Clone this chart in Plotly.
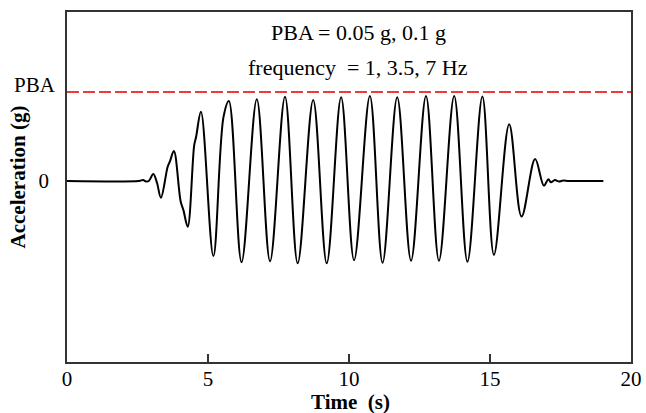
import plotly.graph_objects as go

# Data (acceleration normalised by PBA)
PBA = 1.0
time_s = [0.0, 2.55, 2.70, 2.80, 2.90, 3.06, 3.19, 3.33, 3.57, 3.65, 3.79,
          4.03, 4.13, 4.28, 4.51, 4.58, 4.75, 5.19, 5.55, 5.74, 6.19, 6.73,
          7.20, 7.73, 8.18, 8.73, 9.21, 9.72, 10.18, 10.74, 11.19, 11.71,
          12.20, 12.73, 13.19, 13.73, 14.20, 14.73, 15.14, 15.68, 16.12,
          16.60, 16.91, 17.07, 17.16, 17.30, 17.45, 17.60, 17.80, 19.02]
accel = [0.0, 0.0, 0.01, -0.005, 0.0, 0.079, -0.02, -0.188, 0.16, 0.22, 0.337,
         -0.23, -0.33, -0.514, 0.40, 0.50, 0.778, -0.844, 0.72, 0.899, -0.913, 0.918,
         -0.902, 0.947, -0.925, 0.910, -0.925, 0.940, -0.890, 0.955, -0.920, 0.940,
         -0.895, 0.955, -0.895, 0.955, -0.907, 0.950, -0.830, 0.637, -0.400,
         0.247, -0.052, 0.019, -0.015, 0.010, -0.006, 0.005, 0.0, 0.0]

x_ticks = [0, 5, 10, 15, 20]
title_lines = ["PBA = 0.05 g, 0.1 g", "frequency\u00a0 = 1, 3.5, 7 Hz"]

FONT = "Liberation Serif, Times New Roman, serif"
AX = "#333333"
TICK_SIZE = 21
TEXT_SIZE = 22
TITLE_SIZE = 21

fig = go.Figure()
fig.add_trace(go.Scatter(
    x=time_s, y=accel, mode="lines",
    line=dict(color="black", width=2, shape="spline", smoothing=1.0),
    showlegend=False, hoverinfo="skip"))
fig.add_trace(go.Scatter(
    x=[0, 20], y=[PBA, PBA], mode="lines",
    line=dict(color="#ee3b3b", width=2, dash="12px,4px"),
    showlegend=False, hoverinfo="skip"))

fig.update_layout(
    width=646, height=413,
    margin=dict(l=67, r=15, t=12, b=51),
    paper_bgcolor="white", plot_bgcolor="white",
    font=dict(family=FONT, size=TICK_SIZE, color="black"),
    xaxis=dict(range=[0, 20], tickvals=x_ticks, ticks="inside", ticklen=8,
               tickwidth=1.5, tickcolor=AX, showline=True, linecolor=AX,
               linewidth=1.5, mirror=True, showgrid=False, zeroline=False,
               automargin=False, ticklabelstandoff=-3,
               tickfont=dict(family=FONT, size=TICK_SIZE, color="black")),
    yaxis=dict(range=[-2.034, 1.899], tickvals=[0], ticktext=["0"], ticks="",
               showline=True, linecolor=AX, linewidth=1.5, mirror=True,
               showgrid=False, zeroline=False, ticklabelstandoff=12,
               automargin=False,
               tickfont=dict(family=FONT, size=TICK_SIZE, color="black")),
)

fig.add_annotation(x=0.502, xref="paper", y=-0.114, yref="paper",
                   text="<b>Time\u00a0 (s)</b>", showarrow=False,
                   xanchor="center", yanchor="middle",
                   font=dict(family=FONT, size=TITLE_SIZE, color="black"))
fig.add_annotation(x=-0.016, xref="paper", y=PBA, yref="y", text="PBA",
                   showarrow=False, xanchor="right", yanchor="middle", yshift=7,
                   font=dict(family=FONT, size=TICK_SIZE, color="black"))
fig.add_annotation(x=-0.087, xref="paper", y=0.05, yref="y",
                   text="<b>Acceleration (g)</b>", textangle=-90,
                   showarrow=False, xanchor="center", yanchor="middle",
                   font=dict(family=FONT, size=TITLE_SIZE, color="black"))
fig.add_annotation(x=10.32, xref="x", y=1.674, yref="y", text=title_lines[0],
                   showarrow=False, xanchor="center", yanchor="middle",
                   font=dict(family=FONT, size=TEXT_SIZE, color="black"))
fig.add_annotation(x=10.32, xref="x", y=1.27, yref="y", text=title_lines[1],
                   showarrow=False, xanchor="center", yanchor="middle",
                   font=dict(family=FONT, size=TEXT_SIZE, color="black"))

fig.write_html("out.html")
